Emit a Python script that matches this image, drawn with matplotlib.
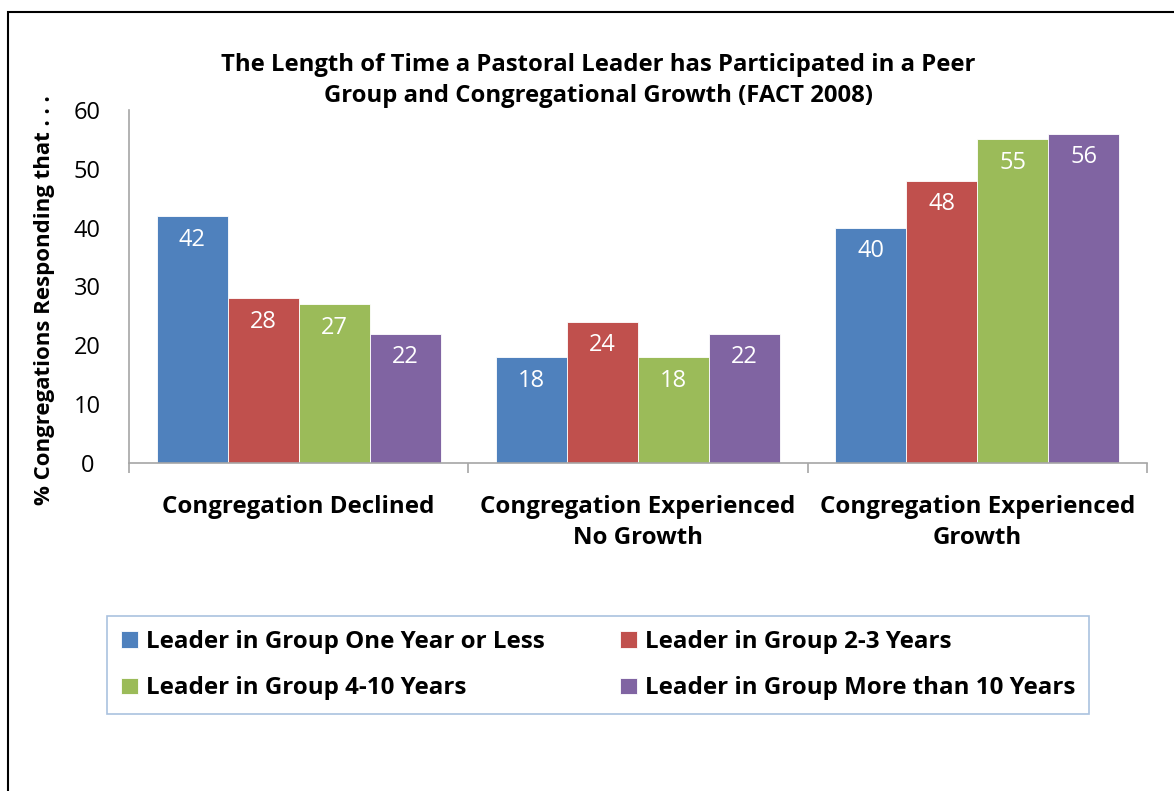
import matplotlib
matplotlib.use("Agg")
import matplotlib.pyplot as plt
from matplotlib.patches import Rectangle
import numpy as np

categories = ["Congregation Declined", "Congregation Experienced\nNo Growth", "Congregation Experienced\nGrowth"]
series_names = ["Leader in Group One Year or Less", "Leader in Group 2-3 Years",
                "Leader in Group 4-10 Years", "Leader in Group More than 10 Years"]
one_year_or_less = [42, 18, 40]
two_three_years = [28, 24, 48]
four_ten_years = [27, 18, 55]
more_than_ten = [22, 22, 56]
series_values = [one_year_or_less, two_three_years, four_ten_years, more_than_ten]
colors = ["#4F81BD", "#C0504D", "#9BBB59", "#8064A2"]
yticks = [0, 10, 20, 30, 40, 50, 60]

plt.rcParams['font.family'] = ['Open Sans', 'DejaVu Sans']

W, H = 1174, 791
fig = plt.figure(figsize=(W/100, H/100), dpi=100)
ax = fig.add_axes([129/W, 1-463/H, (1147-129)/W, (463-110)/H])

x = np.arange(len(categories))
w = 0.209
handles = []
for i, (name, vals, c) in enumerate(zip(series_names, series_values, colors)):
    pos = x + (i - 1.5) * w
    bars = ax.bar(pos, vals, width=w, color=c, label=name, edgecolor='white', linewidth=0.6)
    handles.append(bars)
    for b, v in zip(bars, vals):
        ax.annotate(str(v), (b.get_x() + b.get_width()/2, v), xytext=(0, -17),
                    textcoords='offset points', ha='center', va='center',
                    color='white', fontsize=17)

ax.set_xlim(-0.5, 2.5)
ax.set_ylim(0, 60)
ax.set_yticks(yticks)
ax.tick_params(axis='y', length=0, pad=30, labelsize=17)
for t in ax.get_yticklabels():
    t.set_horizontalalignment('center')
ax.set_xticks([-0.5, 0.5, 1.5, 2.5])
ax.set_xticklabels([])
ax.tick_params(axis='x', which='major', length=7, color='#A6A6A6', width=1.2)
ax.set_xticks(x, minor=True)
ax.set_xticklabels(categories, minor=True, fontsize=17.4, fontweight='bold', linespacing=1.4)
ax.tick_params(axis='x', which='minor', length=0, pad=23)

for s in ['top', 'right']:
    ax.spines[s].set_visible(False)
for s in ['left', 'bottom']:
    ax.spines[s].set_color('#A6A6A6')
    ax.spines[s].set_linewidth(1.2)

fig.text(45/W, 1-300/H, "% Congregations Responding that . . .", rotation=90,
         ha='center', va='center', fontsize=16, fontweight='bold')
fig.text(598/W, 1-80.5/H, "The Length of Time a Pastoral Leader has Participated in a Peer\nGroup and Congregational Growth (FACT 2008)",
         ha='center', va='center', fontsize=17.2, fontweight='bold', linespacing=1.38)

order = [0, 2, 1, 3]
leg = fig.legend([handles[i] for i in order], [series_names[i] for i in order],
                 loc='center', bbox_to_anchor=(598/W, 1-665/H), ncol=2, frameon=True,
                 fancybox=False, prop={'weight': 'bold', 'size': 17.4},
                 handlelength=0.7, handleheight=0.7, handletextpad=0.35,
                 columnspacing=3.1, labelspacing=0.95, borderpad=0.55)
leg.get_frame().set_edgecolor('#95B3D7')
leg.get_frame().set_linewidth(1.2)

fig.patches.append(Rectangle((8/W, -0.1), 1.2, 1 - 12/H + 0.1, transform=fig.transFigure,
                             fill=False, edgecolor='black', linewidth=1.5))

fig.savefig("out.png", dpi=100)
